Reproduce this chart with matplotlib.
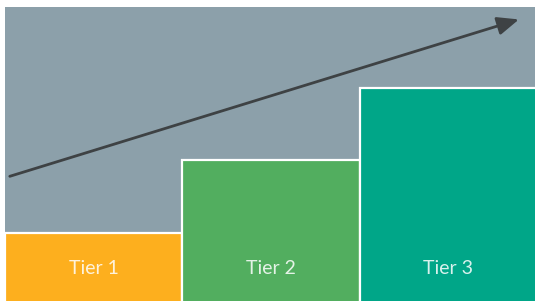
import numpy as np
from matplotlib import pyplot as plt

# data
labels = ["Tier 1", "Tier 2", "Tier 3"]
heights = [70, 143, 215]
colors = ["#FDAF1E", "#52AE5F", "#00A688"]
arrow_start = (0.009, 0.428)   # axes fraction
arrow_end = (0.966, 0.958)

plt.rcParams['font.family'] = ['Lato', 'DejaVu Sans']

fig = plt.figure(figsize=(5.35, 3.01), dpi=100)
ax = fig.add_axes([5/535, -2/301, 532/535, 296/301])
ax.set_facecolor("#8CA0AA")

X = np.arange(len(labels))
ax.bar(X, heights, width=1.0, color=colors, edgecolor='white', linewidth=1.6)

for x, lab in zip(X, labels):
    ax.text(x, 35, lab, ha='center', va='center', fontsize=14,
            color='white', alpha=0.85, fontweight='normal')

ax.annotate('', xy=arrow_end, xytext=arrow_start, xycoords='axes fraction',
            textcoords='axes fraction',
            arrowprops=dict(arrowstyle='-|>,head_length=1.3,head_width=0.55',
                            color='#3E4244', lw=2, shrinkA=0, shrinkB=0))

ax.set_xlim(-0.5, 2.5)
ax.set_ylim(0, 296)
ax.set_xticks([])
ax.set_yticks([])
for s in ax.spines.values():
    s.set_visible(False)

fig.savefig('out.png', dpi=100)
